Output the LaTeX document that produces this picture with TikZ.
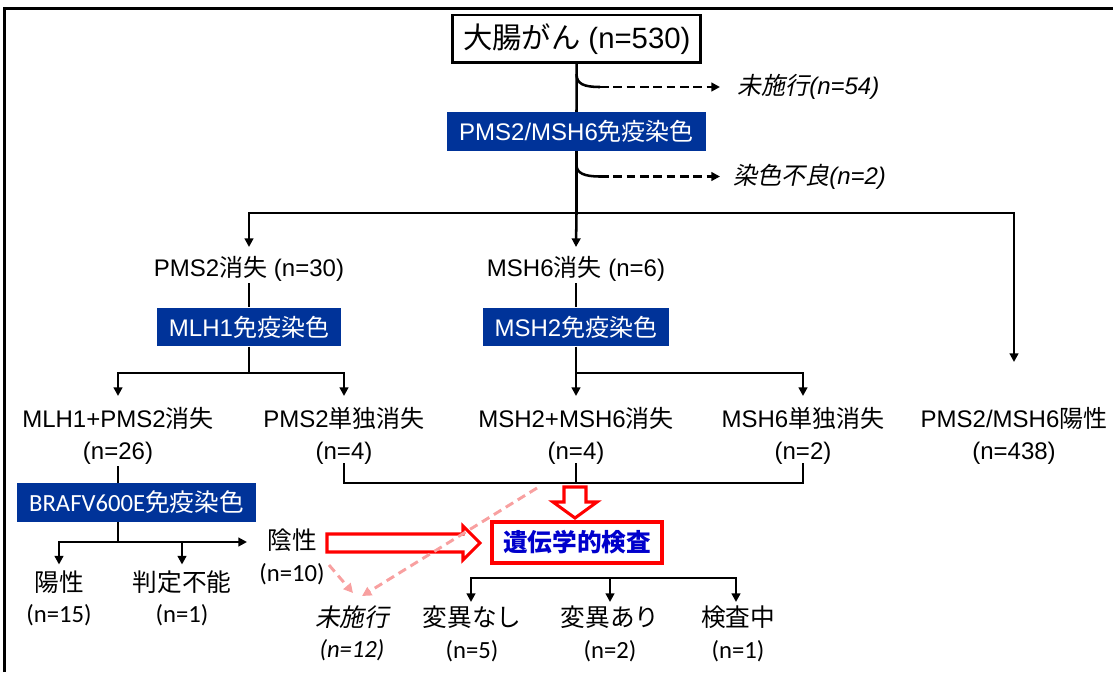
\documentclass[tikz,border=0pt]{standalone}
\usepackage{fontspec}
\setmainfont{Liberation Sans}
\newfontfamily\jpfont{Noto Sans CJK JP}
\newfontfamily\jpslfont{Noto Sans CJK JP}[FakeSlant=0.2]
\newfontfamily\calfont{Carlito}
\newcommand\JP[1]{{\jpfont #1}}
\newcommand\JPi[1]{{\jpslfont #1}}
\usetikzlibrary{arrows.meta,calc}
\definecolor{ihcblue}{RGB}{0,51,153}
\definecolor{genered}{RGB}{255,0,0}
\definecolor{geneblue}{RGB}{0,0,204}
\definecolor{pinkd}{RGB}{248,160,160}
\begin{document}
\begin{tikzpicture}[x=0.75pt,y=-0.75pt,
  every node/.style={inner sep=0pt, align=center},
  txt/.style={font=\fontsize{18}{24}\selectfont},
  ctxt/.style={font=\fontsize{18.5}{23.5}\selectfont\calfont},
  conn/.style={line width=1.9pt},
  arr/.style={conn,-{Triangle[length=6.5pt,width=6.5pt]}},
  dasharr/.style={conn,dash pattern=on 6.5pt off 3.5pt,-{Triangle[length=6.5pt,width=6.5pt]}},
  pinkarr/.style={line width=2.2pt,pinkd,dash pattern=on 6.5pt off 4pt,-{Triangle[length=7pt,width=7pt]}},
  bluebox/.style={fill=ihcblue, text=white, inner xsep=9pt, minimum height=29pt},
  hollow/.style={draw=genered, line width=2.3pt, fill=white, line join=miter}]
\useasboundingbox (0,0) rectangle (1113,672);
% frame
\draw[line width=1.9pt] (4.5,672) -- (4.5,8.5) -- (1113,8.5);

% nodes
\node[draw, line width=1.9pt, minimum width=186pt, minimum height=35.5pt,
      font=\fontsize{22}{26}\selectfont] (crc) at (576.7,38.7) {\JP{大腸がん} (n=530)};
\node[bluebox, txt] (ihc) at (576.5,131.5) {PMS2/MSH6\JP{免疫染色}};
\node[txt, anchor=west, font=\fontsize{18}{24}\selectfont\itshape] (noimp) at (737,87) {\JPi{未施行}(n=54)};
\node[txt, anchor=west, font=\fontsize{18}{24}\selectfont\itshape] (poor) at (733,177) {\JPi{染色不良}(n=2)};

\node[txt] (pmsloss) at (249,269) {PMS2\JP{消失} (n=30)};
\node[txt] (mshloss) at (576,269) {MSH6\JP{消失} (n=6)};
\node[bluebox, txt] (mlh) at (249,327) {MLH1\JP{免疫染色}};
\node[bluebox, txt] (msh2) at (576,327) {MSH2\JP{免疫染色}};

\node[txt] (r2a) at (118,436) {MLH1+PMS2\JP{消失}\\(n=26)};
\node[txt] (r2b) at (344,436) {PMS2\JP{単独消失}\\(n=4)};
\node[txt] (r2c) at (576,436) {MSH2+MSH6\JP{消失}\\(n=4)};
\node[txt] (r2d) at (803,436) {MSH6\JP{単独消失}\\(n=2)};
\node[txt] (r2e) at (1014,436) {PMS2/MSH6\JP{陽性}\\(n=438)};

\node[bluebox, ctxt, minimum height=29.5pt, minimum width=178pt] (braf) at (136.5,502.5) {BRAFV600E\JP{免疫染色}};
\node[ctxt] (pos) at (59,598.5) {\JP{陽性}\\(n=15)};
\node[ctxt] (undet) at (182,598.5) {\JP{判定不能}\\(n=1)};
\node[ctxt] (neg) at (292,557) {\JP{陰性}\\(n=10)};

\node[draw=genered, line width=2.3pt, minimum width=127.5pt, minimum height=30.75pt,
      text=geneblue, font=\fontsize{18.5}{22}\selectfont\jpfont\bfseries] (gene) at (577,542.5) {遺伝学的検査};

\node[ctxt, font=\fontsize{18.5}{23.5}\selectfont\calfont\itshape] (noimp2) at (352,633) {\JPi{未施行}\\(n=12)};
\node[ctxt] (nochg) at (472,634) {\JP{変異なし}\\(n=5)};
\node[ctxt] (chg) at (610,634) {\JP{変異あり}\\(n=2)};
\node[ctxt] (test) at (738,634) {\JP{検査中}\\(n=1)};

% coordinates
\coordinate (t1) at (576.5,74);
\coordinate (d1) at (600,87);
\coordinate (e1) at (720,87);
\coordinate (t2) at (576.5,165);
\coordinate (d2) at (600,176.5);
\coordinate (e2) at (720,176.5);
\coordinate (hb) at (576.5,213);
\coordinate (b1) at (249,373);
\coordinate (b2) at (576,373);
\coordinate (b3) at (118,542);
\coordinate (negin) at (247,542);
\coordinate (gb) at (576,483);
\coordinate (bb) at (610,578);
\coordinate (p1s) at (329,565);
\coordinate (p1e) at (353,593);
\coordinate (p2s) at (537,488);
\coordinate (p2e) at (362,596);

% trunk and side branches
\draw[conn] (crc.south) -- (ihc.north);
\draw[conn] (ihc.south) -- (hb);
\draw[conn] (t1) .. controls (576.5,84) and (584,87) .. (d1);
\draw[dasharr] (d1) -- (e1);
\draw[conn] (t2) .. controls (576.5,173) and (584,176.5) .. (d2);
\draw[dasharr] (d2) -- (e2);

% first split
\draw[arr] (hb) -| ($(pmsloss)+(0,-22)$);
\draw[arr] (hb) -- ($(mshloss)+(0,-22)$);
\draw[arr] (hb) -| ($(r2e)+(0,-74)$);

% second level
\draw[conn] ($(pmsloss)+(0,14)$) -- (mlh.north);
\draw[conn] ($(mshloss)+(0,14)$) -- (msh2.north);
\draw[conn] (mlh.south) -- (b1);
\draw[arr] (b1) -| ($(r2a)+(0,-40)$);
\draw[arr] (b1) -| ($(r2b)+(0,-40)$);
\draw[conn] (msh2.south) -- (b2);
\draw[arr] (b2) -- ($(r2c)+(0,-40)$);
\draw[arr] (b2) -| ($(r2d)+(0,-40)$);

% BRAF branch
\draw[conn] ($(r2a)+(0,30)$) -- (r2a |- braf.north);
\draw[conn] (r2a |- braf.south) -- (b3);
\draw[arr] (b3) -| ($(pos)+(0,-34)$);
\draw[arr] (b3) -| ($(undet)+(0,-34)$);
\draw[arr] (b3) -- (negin);

% to genetic test
\draw[conn] ($(r2b)+(0,27)$) |- (gb) -| ($(r2d)+(0,27)$);
\draw[conn] ($(r2c)+(0,27)$) -- (gb);

% hollow arrows
\draw[hollow] (564,487) -- (586,487) -- (586,502) -- (597,502) -- (575,518) -- (553,502) -- (564,502) -- cycle;
\draw[hollow] (327,534) -- (463,534) -- (463,526) -- (480,543) -- (463,560) -- (463,552) -- (327,552) -- cycle;

% pink dashed
\draw[pinkarr] (p1s) -- (p1e);
\draw[pinkarr] (p2s) -- (p2e);

% results
\draw[arr] (bb) -| ($(nochg)+(-1,-32)$);
\draw[arr] (bb) -- ($(chg)+(0,-32)$);
\draw[arr] (bb) -| ($(test)+(-2,-32)$);
\end{tikzpicture}
\end{document}
